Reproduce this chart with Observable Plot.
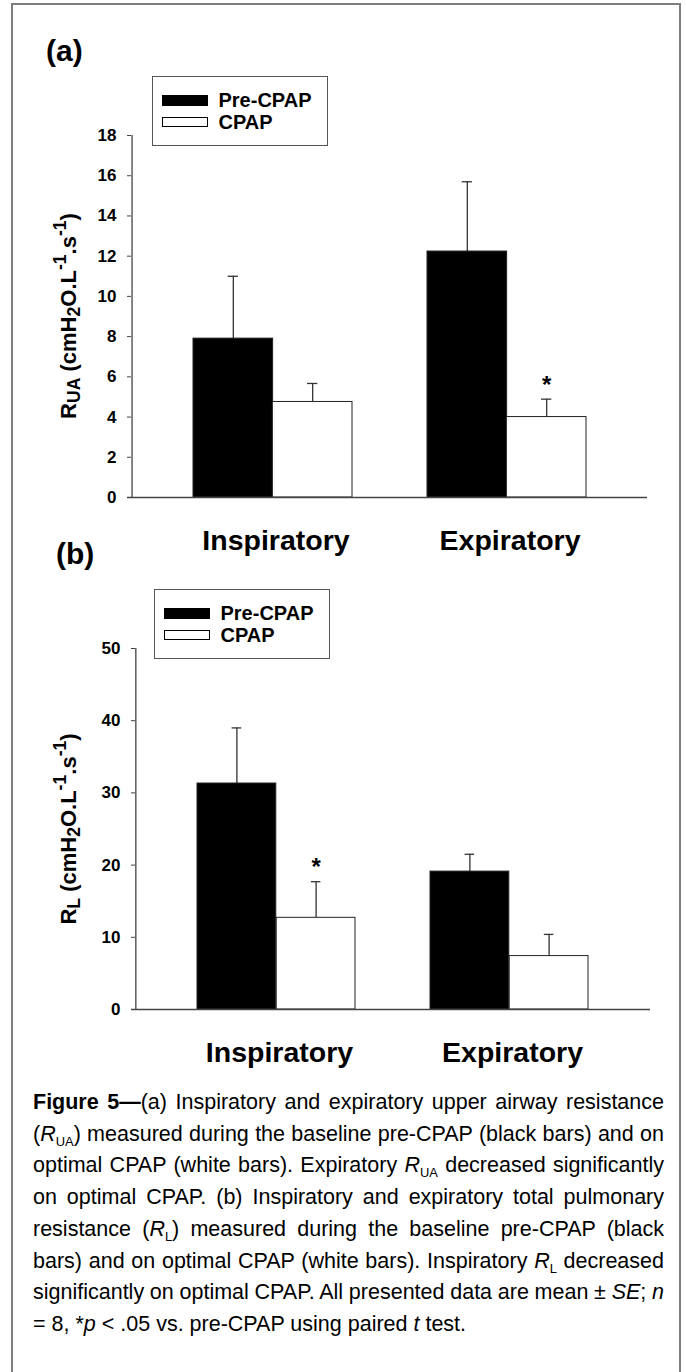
<!DOCTYPE html>
<html>
<head>
<meta charset="utf-8">
<script src="https://cdn.jsdelivr.net/npm/d3@7"></script>
<script src="https://cdn.jsdelivr.net/npm/@observablehq/plot@0.6"></script>
<style>
  html, body { margin: 0; padding: 0; background: #fff; overflow: hidden; }
  #root { position: relative; width: 686px; height: 1372px; font-family: "Liberation Sans", Arial, sans-serif; color: #000; overflow: hidden; }
  .abs { position: absolute; }
  #frame { left: 11px; top: 3px; width: 670px; height: 1420px; border: 2px solid #7f7f7f; box-sizing: border-box; }
  .plabel { font-weight: bold; font-size: 30px; line-height: 30px; z-index: 3; }
  .legend { border: 1.5px solid #555; box-sizing: border-box; width: 176px; height: 70px; background: #fff;
            display: flex; flex-direction: column; justify-content: center; padding-left: 8.5px; z-index: 3; }
  .legend .item { display: flex; align-items: center; height: 22px; font-weight: bold; font-size: 20px; }
  .legend .sw { width: 46px; height: 11px; box-sizing: border-box; border: 1px solid #000; margin-right: 11px; }
  .ytitle { font-weight: bold; font-size: 22px; line-height: 1; white-space: nowrap; z-index: 3;
            transform: translate(-50%, -50%) rotate(-90deg); }
  .ytitle sub, .ytitle sup { font-size: 80%; line-height: 0; }
  .ytitle sub { vertical-align: -0.25em; }
  .ytitle sup { vertical-align: 0.55em; }
  .caption { left: 33px; top: 1087px; width: 631px; font-size: 21.5px; line-height: 31.7px; z-index: 3; }
  .caption .ln { white-space: nowrap; }
  .caption .ln span.inner { white-space: nowrap; }
  .caption sub { font-size: 60%; line-height: 0; vertical-align: -0.35em; }
  svg.plotsvg { position: absolute; left: 0; z-index: 1; }
</style>
</head>
<body>
<div id="root">
  <div id="frame" class="abs"></div>
</div>
<script>
// ---------- data ----------
const groups = ["Inspiratory", "Expiratory"];
const series = ["Pre-CPAP", "CPAP"];
const colors = ["#000000", "#ffffff"];

// Panel (a): upper airway resistance R_UA (cmH2O.L-1.s-1)
const ruaPre = [7.9, 12.23];
const ruaPreSE = [3.1, 3.47];
const ruaCpap = [4.75, 4.0];
const ruaCpapSE = [0.92, 0.89];
const ruaSigPre = [false, false];
const ruaSigCpap = [false, true];
const ruaTicks = [0, 2, 4, 6, 8, 10, 12, 14, 16, 18];

// Panel (b): total pulmonary resistance R_L (cmH2O.L-1.s-1)
const rlPre = [31.3, 19.1];
const rlPreSE = [7.7, 2.4];
const rlCpap = [12.7, 7.4];
const rlCpapSE = [5.0, 3.0];
const rlSigPre = [false, false];
const rlSigCpap = [true, false];
const rlTicks = [0, 10, 20, 30, 40, 50];

// ---------- layout ----------
const W = 686;
const PI = 0.322, PO = 0.263;
const root = document.getElementById("root");

function addDiv(cls, html, style) {
  const d = document.createElement("div");
  d.className = "abs " + cls;
  d.innerHTML = html;
  Object.assign(d.style, style);
  root.appendChild(d);
  return d;
}

function drawPanel(cfg) {
  const rows = [];
  groups.forEach((g, i) => {
    series.forEach((s, j) => {
      rows.push({group: g, series: s, mean: cfg.means[j][i], se: cfg.ses[j][i], sig: cfg.sig[j][i]});
    });
  });
  const band = d3.scaleBand().domain(groups)
    .range([cfg.marginLeft, W - cfg.marginRight]).paddingInner(PI).paddingOuter(PO);
  const bw = band.bandwidth();
  const half = bw / 2, q = bw / 4;
  const axisOffset = cfg.marginLeft - (band(groups[0]) + half);

  const marks = [];
  series.forEach((s, j) => {
    const d = rows.filter(r => r.series === s);
    const first = j === 0;
    const off = first ? -q : q;
    marks.push(Plot.ruleX(d, {x: "group", y1: "mean", y2: r => r.mean + r.se, dx: off, stroke: "#333", strokeWidth: 1.3}));
    marks.push(Plot.tickY(d, {x: "group", y: r => r.mean + r.se, dx: off, insetLeft: half - 5, insetRight: half - 5, stroke: "#333", strokeWidth: 1.3}));
    marks.push(Plot.barY(d, {x: "group", y: "mean", fill: colors[j], stroke: "#222", strokeWidth: 1,
      insetLeft: first ? 0 : half, insetRight: first ? half : 0}));
    marks.push(Plot.text(d.filter(r => r.sig), {x: "group", y: r => r.mean + r.se, text: () => "*",
      dx: off, dy: -14, fontSize: 24, fontWeight: "bold", fill: "#000"}));
  });
  marks.push(Plot.ruleY([0], {stroke: "#444", strokeWidth: 1.3, insetLeft: -4}));
  marks.push(Plot.ruleX([groups[0]], {x: d => d, y1: 0, y2: cfg.yMax, dx: axisOffset, stroke: "#444", strokeWidth: 1.3}));
  marks.push(Plot.axisY({ticks: cfg.ticks, tickSize: 4, tickPadding: 11, fontSize: 17, fontWeight: "bold", label: null, stroke: "#444"}));
  marks.push(Plot.axisX({tickSize: 0, tickPadding: 32, fontSize: 28.5, fontWeight: "bold", label: null, dx: 3}));

  const plot = Plot.plot({
    width: W,
    height: cfg.height,
    marginTop: cfg.marginTop,
    marginBottom: cfg.marginBottom,
    marginLeft: cfg.marginLeft,
    marginRight: cfg.marginRight,
    x: {domain: groups, paddingInner: PI, paddingOuter: PO, axis: null},
    y: {domain: [0, cfg.yMax], axis: null},
    style: {background: "transparent", color: "#000", fontFamily: "'Liberation Sans', Arial, sans-serif", overflow: "visible"},
    marks
  });
  plot.classList.add("plotsvg");
  plot.style.top = cfg.top + "px";
  root.appendChild(plot);

  // panel label
  addDiv("plabel", cfg.panelLabel, {left: cfg.labelX + "px", top: cfg.labelY + "px"});
  // legend
  const items = series.map((s, j) =>
    `<div class="item"><div class="sw" style="background:${colors[j]};${j === 1 ? "height:10px;" : ""}"></div>${s}</div>`).join("");
  addDiv("legend", items, {left: cfg.legendX + "px", top: cfg.legendY + "px"});
  // y title, centered on the plot area
  const cy = cfg.top + (cfg.marginTop + (cfg.height - cfg.marginBottom)) / 2;
  addDiv("ytitle", cfg.yTitle, {left: "69px", top: cy + "px"});
}

drawPanel({
  means: [ruaPre, ruaCpap], ses: [ruaPreSE, ruaCpapSE], sig: [ruaSigPre, ruaSigCpap],
  ticks: ruaTicks, yMax: 18,
  top: 0, height: 570, marginTop: 135, marginBottom: 73, marginLeft: 131, marginRight: 39,
  panelLabel: "(a)", labelX: 46, labelY: 36,
  legendX: 152, legendY: 76,
  yTitle: "R<sub>UA</sub> (cmH<sub>2</sub>O.L<sup>-1</sup>.s<sup>-1</sup>)"
});

drawPanel({
  means: [rlPre, rlCpap], ses: [rlPreSE, rlCpapSE], sig: [rlSigPre, rlSigCpap],
  ticks: rlTicks, yMax: 50,
  top: 570, height: 512, marginTop: 78, marginBottom: 73, marginLeft: 135, marginRight: 36,
  panelLabel: "(b)", labelX: 56, labelY: 539,
  legendX: 154, legendY: 589,
  yTitle: "R<sub>L</sub> (cmH<sub>2</sub>O.L<sup>-1</sup>.s<sup>-1</sup>)"
});

// caption
const captionLines = [
  "<b>Figure 5\u2014</b>(a) Inspiratory and expiratory upper airway resistance",
  "(<i>R</i><sub>UA</sub>) measured during the baseline pre-CPAP (black bars) and on",
  "optimal CPAP (white bars). Expiratory <i>R</i><sub>UA</sub> decreased significantly",
  "on optimal CPAP. (b) Inspiratory and expiratory total pulmonary",
  "resistance (<i>R</i><sub>L</sub>) measured during the baseline pre-CPAP (black",
  "bars) and on optimal CPAP (white bars). Inspiratory <i>R</i><sub>L</sub> decreased",
  "significantly on optimal CPAP. All presented data are mean \u00b1 <i>SE</i>; <i>n</i>",
  "= 8, *<i>p</i> &lt; .05 vs. pre-CPAP using paired <i>t</i> test."
];
const capWidth = 631;
const cap = addDiv("caption", captionLines.map(l =>
  `<div class="ln"><span class="inner">${l}</span></div>`).join(""), {});
const lns = cap.querySelectorAll(".ln");
lns.forEach((ln, i) => {
  if (i === lns.length - 1) return;
  const inner = ln.querySelector(".inner");
  const w = inner.getBoundingClientRect().width;
  const n = (inner.textContent.match(/ /g) || []).length;
  if (n > 0) ln.style.wordSpacing = ((capWidth - w) / n) + "px";
});
</script>
</body>
</html>
